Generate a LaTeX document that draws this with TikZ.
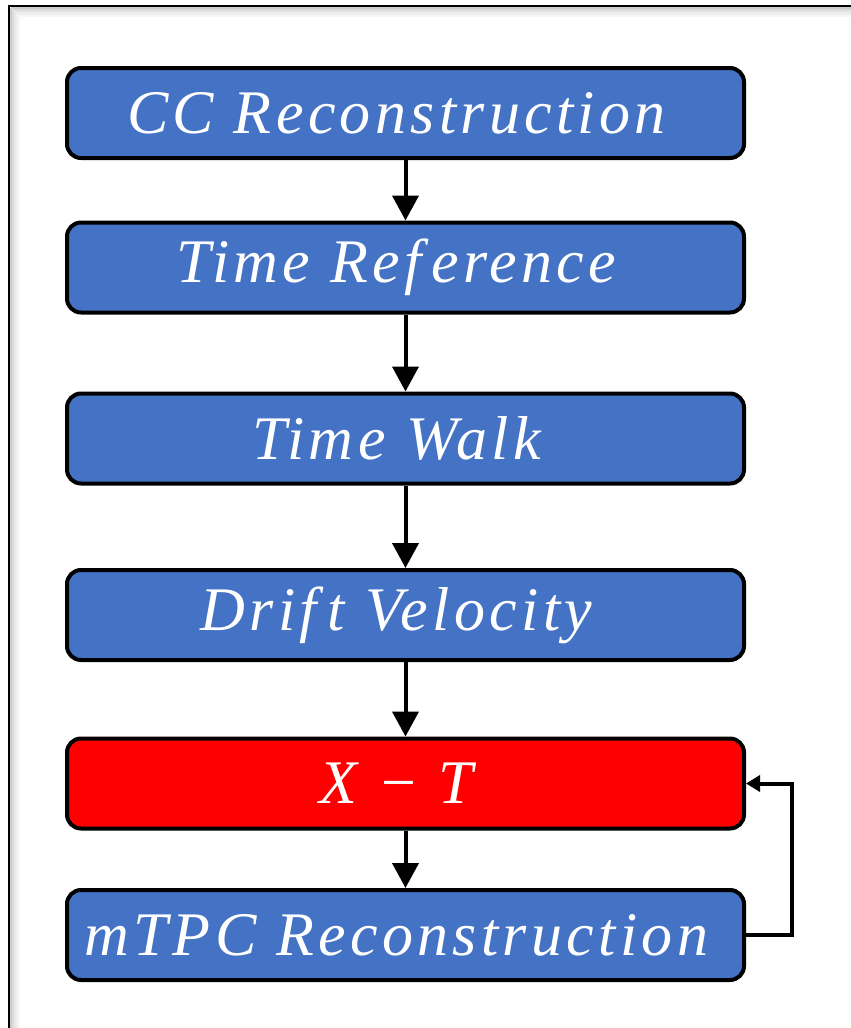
\documentclass[tikz,border=0pt]{standalone}
\usepackage{fontspec}
\setmainfont{Liberation Serif}
\newfontfamily\boxfont[LetterSpace=7]{Liberation Serif}
\usetikzlibrary{arrows.meta}
\definecolor{boxblue}{HTML}{4472C4}
\definecolor{boxred}{HTML}{FF0000}
\tikzset{
  stepbox/.style={draw=black, line width=4pt, rounded corners=14pt, fill=boxblue,
    minimum width=677pt, minimum height=90pt, inner sep=0pt, text=white,
    font=\boxfont\itshape\fontsize{62}{66}\selectfont,
    execute at end node=\hspace*{18pt}},
  flowarrow/.style={line width=4pt, -{Triangle[length=25pt,width=26pt]}},
  backarrow/.style={line width=4pt, -{Triangle[length=14pt,width=16pt]}}
}
\begin{document}
\begin{tikzpicture}[x=1pt,y=-1pt]
\useasboundingbox (0,0) rectangle (851,1028);
\begin{scope}
\clip (0,0) rectangle (851,1028);
\foreach \o/\c in {1/20,2/14,3/9,4/6,5/3}{
  \draw[black!\c, line width=1.2pt] (9+2*\o,6+2*\o) -- (860,6+2*\o);
  \draw[black!\c, line width=1.2pt] (9+2*\o,6+2*\o) -- (9+2*\o,1040);
}
\draw[line width=2.5pt] (9,1040) -- (9,6) -- (860,6);
\end{scope}
\node[stepbox] (cc) at (405.5,113) {CC Reconstruction};
\node[stepbox] (tr) at (405.5,267.5) {Time Ref\,erence};
\node[stepbox] (tw) at (405.5,438.5) {Time\,\,Walk};
\node[stepbox] (dv) at (405.5,615) {Drif\,t\,\,Velocity};
\node[stepbox, fill=boxred] (xt) at (405.5,783.5) {X − T};
\node[stepbox] (mt) at (405.5,935) {mTPC Reconstruction};
\draw[flowarrow] (cc) -- (tr);
\draw[flowarrow] (tr) -- (tw);
\draw[flowarrow] (tw) -- (dv);
\draw[flowarrow] (dv) -- (xt);
\draw[flowarrow] (xt) -- (mt);
\coordinate (loop) at (792,0);
\draw[backarrow] (mt.east) -- (mt.east -| loop) |- (xt.east);
\end{tikzpicture}
\end{document}
